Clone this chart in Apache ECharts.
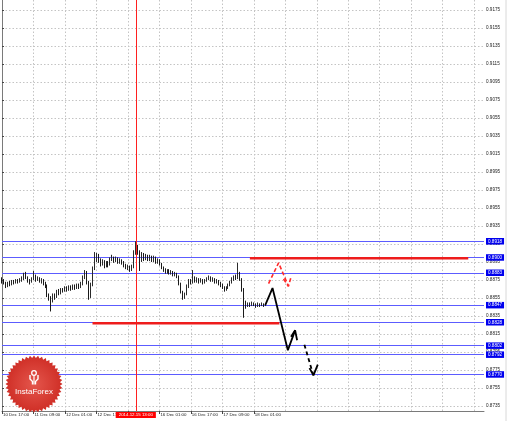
<!DOCTYPE html>
<html><head><meta charset="utf-8">
<script src="https://cdn.jsdelivr.net/npm/echarts@6/dist/echarts.min.js"></script>
<style>html,body{margin:0;padding:0;background:#fff}#c{width:510px;height:421px}</style>
</head><body><div id="c"></div><script>
// ---- data ----
const tickLabels = ["10 Dec 17:00","11 Dec 09:00","12 Dec 01:00","12 Dec 17:00","15 Dec 09:00","16 Dec 01:00","16 Dec 17:00","17 Dec 09:00","18 Dec 01:00"];
const barsPerTick = 16;
const totalSlots = 246;
const priceTicks = [0.8735,0.8755,0.8775,0.8795,0.8815,0.8835,0.8855,0.8875,0.8895,0.8915,0.8935,0.8955,0.8975,0.8995,0.9015,0.9035,0.9055,0.9075,0.9095,0.9115,0.9135,0.9155,0.9175];
const priceMin = 0.87294, priceMax = 0.91861;
// [open, close, low, high]
const candles = [
[0.8876,0.8874,0.8871,0.8878],[0.8874,0.8872,0.8870,0.8876],[0.8872,0.8869,0.8866,0.8873],[0.8869,0.8871,0.8867,0.8873],
[0.8871,0.8870,0.8868,0.8874],[0.8870,0.8873,0.8869,0.8875],[0.8873,0.8872,0.8870,0.8875],[0.8872,0.8874,0.8871,0.8876],
[0.8874,0.8873,0.8871,0.8876],[0.8873,0.8875,0.8872,0.8877],[0.8875,0.8876,0.8873,0.8879],[0.8876,0.8880,0.8875,0.8883],
[0.8880,0.8878,0.8876,0.8884],[0.8878,0.8874,0.8872,0.8879],[0.8874,0.8873,0.8870,0.8876],[0.8873,0.8876,0.8872,0.8878],
[0.8876,0.8879,0.8875,0.8885],[0.8879,0.8875,0.8873,0.8881],[0.8875,0.8877,0.8874,0.8879],[0.8877,0.8874,0.8872,0.8878],
[0.8874,0.8875,0.8871,0.8877],[0.8875,0.8871,0.8869,0.8876],[0.8871,0.8869,0.8866,0.8873],[0.8869,0.8858,0.8856,0.8870],
[0.8858,0.8855,0.8852,0.8860],[0.8855,0.8853,0.8840,0.8857],[0.8853,0.8858,0.8850,0.8860],[0.8858,0.8856,0.8853,0.8860],
[0.8856,0.8862,0.8855,0.8864],[0.8862,0.8860,0.8858,0.8865],[0.8860,0.8864,0.8859,0.8866],[0.8864,0.8863,0.8861,0.8866],
[0.8863,0.8866,0.8862,0.8868],[0.8866,0.8864,0.8862,0.8868],[0.8864,0.8867,0.8863,0.8869],[0.8867,0.8865,0.8863,0.8869],
[0.8865,0.8868,0.8864,0.8870],[0.8868,0.8866,0.8864,0.8870],[0.8866,0.8869,0.8865,0.8871],[0.8869,0.8867,0.8865,0.8871],
[0.8867,0.8870,0.8866,0.8873],[0.8870,0.8878,0.8869,0.8880],[0.8878,0.8884,0.8876,0.8886],[0.8884,0.8872,0.8870,0.8885],
[0.8872,0.8856,0.8853,0.8874],[0.8856,0.8870,0.8855,0.8872],[0.8870,0.8888,0.8868,0.8890],[0.8888,0.8898,0.8886,0.8906],
[0.8898,0.8902,0.8895,0.8905],[0.8902,0.8897,0.8894,0.8904],[0.8897,0.8893,0.8890,0.8899],[0.8893,0.8896,0.8891,0.8898],
[0.8896,0.8891,0.8888,0.8897],[0.8891,0.8894,0.8889,0.8896],[0.8894,0.8892,0.8889,0.8896],[0.8892,0.8898,0.8891,0.8900],
[0.8898,0.8900,0.8896,0.8903],[0.8900,0.8896,0.8894,0.8901],[0.8896,0.8899,0.8895,0.8901],[0.8899,0.8895,0.8893,0.8900],
[0.8895,0.8897,0.8893,0.8899],[0.8897,0.8894,0.8892,0.8898],[0.8894,0.8892,0.8889,0.8896],[0.8892,0.8889,0.8887,0.8893],
[0.8889,0.8890,0.8886,0.8892],[0.8890,0.8886,0.8884,0.8891],[0.8886,0.8889,0.8885,0.8892],[0.8889,0.8905,0.8888,0.8908],
[0.8905,0.8912,0.8903,0.8918],[0.8912,0.8906,0.8903,0.8914],[0.8906,0.8897,0.8885,0.8908],[0.8897,0.8904,0.8895,0.8906],
[0.8904,0.8899,0.8896,0.8905],[0.8899,0.8902,0.8897,0.8904],[0.8902,0.8898,0.8896,0.8903],[0.8898,0.8901,0.8896,0.8903],
[0.8901,0.8897,0.8895,0.8902],[0.8897,0.8900,0.8895,0.8902],[0.8900,0.8895,0.8893,0.8901],[0.8895,0.8897,0.8893,0.8899],
[0.8897,0.8893,0.8891,0.8898],[0.8893,0.8889,0.8887,0.8894],[0.8889,0.8886,0.8884,0.8890],[0.8886,0.8884,0.8882,0.8888],
[0.8884,0.8885,0.8882,0.8887],[0.8885,0.8883,0.8881,0.8887],[0.8883,0.8884,0.8881,0.8886],[0.8884,0.8881,0.8879,0.8885],
[0.8881,0.8882,0.8879,0.8884],[0.8882,0.8879,0.8877,0.8883],[0.8879,0.8871,0.8869,0.8880],[0.8871,0.8862,0.8860,0.8872],
[0.8862,0.8856,0.8853,0.8863],[0.8856,0.8859,0.8854,0.8861],[0.8859,0.8868,0.8858,0.8870],[0.8868,0.8874,0.8866,0.8876],
[0.8874,0.8872,0.8870,0.8876],[0.8872,0.8877,0.8871,0.8886],[0.8877,0.8874,0.8872,0.8879],[0.8874,0.8876,0.8872,0.8878],
[0.8876,0.8873,0.8871,0.8877],[0.8873,0.8875,0.8872,0.8877],[0.8875,0.8872,0.8870,0.8876],[0.8872,0.8874,0.8871,0.8876],
[0.8874,0.8876,0.8873,0.8878],[0.8876,0.8878,0.8875,0.8880],[0.8878,0.8875,0.8873,0.8879],[0.8875,0.8876,0.8873,0.8878],
[0.8876,0.8873,0.8871,0.8877],[0.8873,0.8874,0.8871,0.8876],[0.8874,0.8871,0.8869,0.8875],[0.8871,0.8870,0.8867,0.8873],
[0.8870,0.8867,0.8865,0.8871],[0.8867,0.8864,0.8862,0.8868],[0.8864,0.8866,0.8863,0.8868],[0.8866,0.8869,0.8865,0.8871],
[0.8869,0.8872,0.8868,0.8874],[0.8872,0.8876,0.8871,0.8878],[0.8876,0.8878,0.8874,0.8880],[0.8878,0.8877,0.8875,0.8881],
[0.8877,0.8882,0.8876,0.8894],[0.8882,0.8876,0.8874,0.8884],[0.8876,0.8864,0.8862,0.8877],[0.8864,0.8850,0.8833,0.8866],
[0.8850,0.8846,0.8843,0.8852],[0.8846,0.8848,0.8845,0.8850],[0.8848,0.8847,0.8845,0.8850],[0.8847,0.8849,0.8846,0.8851],
[0.8849,0.8848,0.8846,0.8850],[0.8848,0.8846,0.8844,0.8849],[0.8846,0.8848,0.8845,0.8850],[0.8848,0.8847,0.8845,0.8849],
[0.8847,0.8848,0.8846,0.8850],[0.8848,0.8847,0.8845,0.8849],[0.8847,0.8847,0.8846,0.8849]
];
const levels = [0.8918,0.8900,0.8883,0.8847,0.8828,0.8802,0.8792,0.8770];
// [fromBar, toBar, price]
const redLevels = [[126,237,0.8899],[46,141,0.8827]];
const crossBar = 68;
const crossLabel = "2014.12.15 13:00";
// [bar, price]
const blackArrow = [[133.8,0.8847],[137.5,0.8866],[145.3,0.8797],[149.0,0.8819]];
const blackArrowHead = [[146.9,0.8812],[149.0,0.8819],[150.0,0.8808]];
const blackDashed = [[153.7,0.8803],[158.3,0.8769]];
const blackDashedHead = [[156.3,0.8777],[158.3,0.8769],[160.5,0.8781]];
const redArrow = [[135.5,0.8871],[140.6,0.8894],[145.6,0.8868]];
const redArrowHead = [[143.1,0.8876],[145.6,0.8868],[146.9,0.8878]];

// ---- chart ----
const FONT = 'Liberation Sans, Arial, sans-serif';
const slots = Array.from({length: totalSlots}, (_, i) => String(i));
const isLabelBar = (i) => i % barsPerTick === 0 && i / barsPerTick < tickLabels.length;
const gridLine = {color:'#c4c4c4', width:1, type:[1.5,2]};

function overlay(data, color, width, dash) {
  return {type:'line', xAxisIndex:1, yAxisIndex:0, data: data, symbol:'none', silent:true, z:6,
    lineStyle:{color: color, width: width, type: dash || 'solid'}, animation:false};
}

const levelMarks = levels.map(v => ({
  yAxis: v,
  lineStyle:{color:'#5c5cff', width:1, type:'solid'},
  label:{show:true, position:'end', distance:2, formatter: v.toFixed(4), color:'#ffffff', backgroundColor:'#0000ee',
    fontSize:4.6, fontFamily:FONT, padding:[1,2,0.5,2]}
}));
const crossMark = {
  xAxis: crossBar,
  lineStyle:{color:'#ff2020', width:1, type:'solid'},
  label:{show:true, position:'start', distance:1, formatter: crossLabel, color:'#ffffff',
    backgroundColor:'#ff0000', fontSize:4.4, fontFamily:FONT, padding:[1,3,1,3]}
};

// logo star points
const cx = 34, cy = 384, spikes = 44, rOut = 28.5, rIn = 26;
const starPts = [];
for (let k = 0; k < spikes * 2; k++) {
  const r = k % 2 === 0 ? rOut : rIn;
  const a = Math.PI * k / spikes;
  starPts.push([cx + r * Math.cos(a), cy + r * Math.sin(a)]);
}

const option = {
  backgroundColor:'#ffffff',
  animation:false,
  grid:{left:-1, right:26, top:0, bottom:10, containLabel:false},
  xAxis:[{
    type:'category', data: slots, boundaryGap:false,
    axisLine:{show:true, lineStyle:{color:'#7a7a7a', width:1}},
    axisTick:{show:true, interval:(i)=>isLabelBar(i), length:3, lineStyle:{color:'#444'}},
    axisLabel:{interval:(i)=>isLabelBar(i), formatter:(v,i)=>tickLabels[i/barsPerTick] || '',
      align:'left', margin:2, fontSize:4.4, color:'#222', fontFamily:FONT, padding:[0,0,0,1]},
    splitLine:{show:true, interval:(i)=> i % barsPerTick === 0, lineStyle:gridLine}
  },{
    type:'value', min:0, max:totalSlots-1, show:false
  }],
  yAxis:[{
    type:'value', position:'right', min:priceMin, max:priceMax, scale:true,
    axisLine:{show:true, lineStyle:{color:'#7a7a7a', width:1}},
    axisTick:{show:true, customValues: priceTicks, length:2, lineStyle:{color:'#444'}},
    axisLabel:{customValues: priceTicks, formatter:(v)=>Number(v).toFixed(4), margin:2,
      fontSize:4.6, color:'#222', fontFamily:FONT},
    splitLine:{show:true, lineStyle:gridLine}
  }],
  series:[
    {
      type:'candlestick', data: candles, barWidth:1, z:4,
      itemStyle:{color:'#ffffff', color0:'#000000', borderColor:'#2a2a2a', borderColor0:'#1a1a1a', borderWidth:1},
      markLine:{silent:true, symbol:['none','none'], animation:false, z:3, precision:4,
        data: levelMarks.concat([crossMark])
      }
    },
    ...redLevels.map(r => overlay([[r[0], r[2]], [r[1], r[2]]], '#ee1c1c', 2.5)),
    overlay(redArrow, '#ff2a2a', 1.6, [4,2.5]),
    overlay(redArrowHead, '#ff2a2a', 1.6, [4,2.5]),
    overlay(blackArrow, '#000000', 1.8),
    overlay(blackArrowHead, '#000000', 1.8),
    overlay(blackDashed, '#000000', 1.8, [4,3]),
    overlay(blackDashedHead, '#000000', 1.8)
  ],
  graphic:[
    {type:'line', shape:{x1:506, y1:0, x2:506, y2:421}, style:{stroke:'#d8d8d8', lineWidth:1}, z:1},
    {type:'polygon', shape:{points: starPts}, z:50,
      style:{fill:{type:'radial', x:0.5, y:0.5, r:0.5, colorStops:[{offset:0, color:'#e4564c'},{offset:1, color:'#cf2e26'}]}}},
    {type:'circle', shape:{cx:cx, cy:cy-11, r:2.3}, z:51, style:{fill:'none', stroke:'#ffffff', lineWidth:1.3}},
    {type:'polyline', shape:{points:[[cx-4,cy-9],[cx-4,cy-5],[cx-1.5,cy-2.5],[cx-1.5,cy+0.5]]}, z:51, style:{fill:'none', stroke:'#ffffff', lineWidth:1.4}},
    {type:'polyline', shape:{points:[[cx+4,cy-9],[cx+4,cy-5],[cx+1.5,cy-2.5],[cx+1.5,cy+0.5]]}, z:51, style:{fill:'none', stroke:'#ffffff', lineWidth:1.4}},
    {type:'line', shape:{x1:cx, y1:cy-8.5, x2:cx, y2:cy+0.5}, z:51, style:{stroke:'#ffffff', lineWidth:1.2}},
    {type:'text', x:cx, y:cy+8, z:51, style:{text:'InstaForex', fill:'#ffffff', font:'8px ' + FONT, textAlign:'center', textVerticalAlign:'middle'}}
  ]
};
const chart = echarts.init(document.getElementById('c'), null, {renderer:'canvas'});
chart.setOption(option);
</script></body></html>
